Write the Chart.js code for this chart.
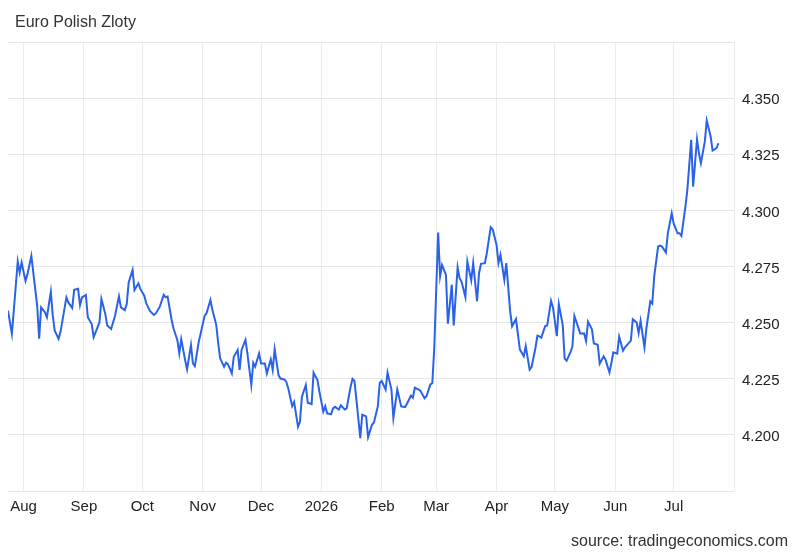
<!DOCTYPE html>
<html>
<head>
<meta charset="utf-8">
<script src="https://cdn.jsdelivr.net/npm/chart.js@4.4.1/dist/chart.umd.min.js"></script>
<style>
  body { margin: 0; background: #fff; }
  #wrap { position: relative; width: 800px; height: 555px; font-family: "Liberation Sans", Arial, Helvetica, sans-serif; }
  #title { position: absolute; left: 15px; top: 12px; font-size: 16px; line-height: 20px; color: #333; }
  #source { position: absolute; right: 12px; top: 531px; font-size: 16px; line-height: 20px; color: #333; }
  #chartBox { position: absolute; left: 0; top: 0; width: 800px; height: 555px; }
</style>
</head>
<body>
<div id="wrap">
  <div id="chartBox"><canvas id="fxChart"></canvas></div>
  <div id="title">Euro Polish Zloty</div>
  <div id="source">source: tradingeconomics.com</div>
</div>
<script>
// days counted from 2025-08-01 (0 = Aug 1 2025)
const days = [
  -8, -6, -3, -2, -1, 1, 2, 4, 5, 7, 8, 9, 11, 12, 14, 15, 16, 18, 19, 21,
  22, 23, 25, 26, 28, 29, 30, 32, 33, 35, 36, 38, 39, 40, 42, 43, 45, 46, 47, 49,
  50, 52, 53, 54, 56, 57, 59, 60, 62, 63, 65, 67, 68, 70, 72, 73, 74, 76, 77, 79,
  80, 81, 83, 84, 86, 87, 88, 90, 91, 93, 94, 96, 97, 99, 100, 101, 103, 104, 105, 107,
  108, 110, 111, 112, 114, 115, 117, 118, 119, 121, 122, 124, 125, 127, 128, 129, 131, 132, 134, 135,
  136, 138, 139, 141, 142, 143, 145, 146, 148, 149, 151, 152, 154, 155, 156, 158, 159, 160, 162, 163,
  165, 166, 168, 169, 170, 171, 173, 174, 176, 177, 179, 180, 182, 183, 184, 186, 187, 189, 190, 192,
  193, 194, 196, 197, 199, 200, 201, 203, 204, 206, 207, 209, 210, 211, 213, 214, 215, 217, 218, 220,
  221, 223, 224, 225, 227, 228, 230, 231, 233, 234, 235, 237, 238, 240, 241, 243, 244, 245, 247, 248,
  250, 251, 253, 254, 255, 257, 258, 260, 261, 263, 264, 265, 266, 268, 269, 271, 272, 274, 275, 277,
  278, 279, 281, 282, 283, 285, 286, 288, 289, 290, 292, 293, 295, 296, 298, 299, 301, 302, 303, 305,
  306, 308, 309, 310, 312, 313, 315, 316, 317, 319, 320, 322, 323, 324, 326, 327, 328, 330, 331, 333,
  334, 336, 337, 338, 340, 341, 343, 344, 346, 347, 348, 350, 351, 353, 354, 356, 357
];

const rates = [
  4.2553, 4.2450, 4.2772, 4.2723, 4.2768, 4.2686, 4.2716, 4.2797, 4.2723, 4.2575,
  4.2428, 4.2568, 4.2546, 4.2524, 4.2637, 4.2531, 4.2464, 4.2428, 4.2460, 4.2561,
  4.2612, 4.2590, 4.2565, 4.2646, 4.2651, 4.2578, 4.2612, 4.2623, 4.2524, 4.2494,
  4.2435, 4.2479, 4.2502, 4.2605, 4.2538, 4.2487, 4.2472, 4.2502, 4.2531, 4.2617,
  4.2568, 4.2556, 4.2583, 4.2679, 4.2734, 4.2645, 4.2675, 4.2650, 4.2620, 4.2587,
  4.2551, 4.2534, 4.2542, 4.2571, 4.2624, 4.2613, 4.2616, 4.2515, 4.2475, 4.2423,
  4.2363, 4.2426, 4.2333, 4.2292, 4.2400, 4.2318, 4.2306, 4.2415, 4.2452, 4.2530,
  4.2542, 4.2601, 4.2557, 4.2490, 4.2408, 4.2341, 4.2304, 4.2321, 4.2315, 4.2274,
  4.2348, 4.2378, 4.2289, 4.2378, 4.2423, 4.2363, 4.2222, 4.2321, 4.2304, 4.2363,
  4.2318, 4.2318, 4.2274, 4.2336, 4.2289, 4.2381, 4.2266, 4.2251, 4.2247, 4.2236,
  4.2207, 4.2128, 4.2147, 4.2036, 4.2058, 4.2170, 4.2222, 4.2143, 4.2137, 4.2277,
  4.2244, 4.2192, 4.2103, 4.2128, 4.2095, 4.2092, 4.2118, 4.2125, 4.2113, 4.2132,
  4.2113, 4.2118, 4.2214, 4.2250, 4.2240, 4.2157, 4.1985, 4.2090, 4.2082, 4.1990,
  4.2045, 4.2055, 4.2127, 4.2232, 4.2240, 4.2202, 4.2277, 4.2202, 4.2075, 4.2202,
  4.2165, 4.2127, 4.2124, 4.2139, 4.2175, 4.2165, 4.2210, 4.2202, 4.2195, 4.2163,
  4.2172, 4.2225, 4.2230, 4.2387, 4.2901, 4.2706, 4.2757, 4.2713, 4.2495, 4.2669,
  4.2487, 4.2746, 4.2698, 4.2683, 4.2614, 4.2772, 4.2688, 4.2765, 4.2595, 4.2720,
  4.2762, 4.2765, 4.2809, 4.2925, 4.2916, 4.2846, 4.2765, 4.2802, 4.2691, 4.2765,
  4.2550, 4.2484, 4.2516, 4.2447, 4.2380, 4.2350, 4.2395, 4.2291, 4.2302, 4.2388,
  4.2442, 4.2439, 4.2433, 4.2485, 4.2487, 4.2597, 4.2567, 4.2440, 4.2582, 4.2490,
  4.2340, 4.2330, 4.2368, 4.2395, 4.2530, 4.2478, 4.2452, 4.2452, 4.2418, 4.2504,
  4.2470, 4.2407, 4.2401, 4.2317, 4.2350, 4.2335, 4.2278, 4.2320, 4.2368, 4.2362,
  4.2437, 4.2375, 4.2390, 4.2400, 4.2420, 4.2515, 4.2500, 4.2453, 4.2508, 4.2390,
  4.2475, 4.2595, 4.2585, 4.2705, 4.2839, 4.2843, 4.2839, 4.2812, 4.2898, 4.2987,
  4.2942, 4.2898, 4.2898, 4.2886, 4.3014, 4.3088, 4.3314, 4.3106, 4.3317, 4.3254,
  4.3210, 4.3306, 4.3400, 4.3329, 4.3266, 4.3277, 4.3299
];

// month starts (days from 2025-08-01) and their labels; last one is Aug 2026 (no label)
const monthStarts = [0, 31, 61, 92, 122, 153, 184, 212, 243, 273, 304, 334, 365];
const monthLabels = ['Aug', 'Sep', 'Oct', 'Nov', 'Dec', '2026', 'Feb', 'Mar', 'Apr', 'May', 'Jun', 'Jul', ''];

const yTicks = [4.175, 4.2, 4.225, 4.25, 4.275, 4.3, 4.325, 4.35, 4.375];

const tickFont = { family: '"Liberation Sans", Arial, Helvetica, sans-serif', size: 15 };

const points = days.map((d, i) => ({ x: d, y: rates[i] }));

new Chart(document.getElementById('fxChart').getContext('2d'), {
    type: 'line',
    data: {
        datasets: [{
            label: 'EURPLN',
            data: points,
            borderColor: '#2a62e8',
            borderWidth: 2,
            pointRadius: 0,
            tension: 0,
            fill: false
        }]
    },
    options: {
        responsive: true,
        maintainAspectRatio: false,
        animation: false,
        layout: { padding: { left: 8, top: 42, right: 0, bottom: 0 } },
        plugins: {
            legend: { display: false },
            tooltip: { enabled: false }
        },
        scales: {
            x: {
                type: 'linear',
                min: days[0],
                max: 365,
                afterBuildTicks: (scale) => {
                    scale.ticks = monthStarts.map(v => ({ value: v }));
                },
                afterFit: (scale) => { scale.height = 64; },
                grid: { color: '#ebebeb', drawTicks: false },
                border: { display: false },
                ticks: {
                    autoSkip: false,
                    maxRotation: 0,
                    padding: 7,
                    color: '#222',
                    font: tickFont,
                    callback: (value, index) => monthLabels[index]
                }
            },
            y: {
                position: 'right',
                min: 4.175,
                max: 4.375,
                afterBuildTicks: (scale) => {
                    scale.ticks = yTicks.map(v => ({ value: v }));
                },
                afterFit: (scale) => { scale.width = 66; },
                grid: { color: '#e6e6e6', drawTicks: false },
                border: { display: false },
                ticks: {
                    padding: 8,
                    labelOffset: 2,
                    color: '#222',
                    font: tickFont,
                    callback: (value) => (value <= 4.18 || value >= 4.37) ? '' : value.toFixed(3)
                }
            }
        }
    }
});
</script>
</body>
</html>
